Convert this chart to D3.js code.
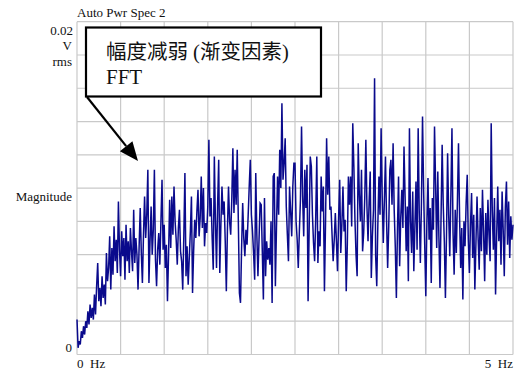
<!DOCTYPE html>
<html>
<head>
<meta charset="utf-8">
<script src="https://cdnjs.cloudflare.com/ajax/libs/d3/7.8.5/d3.min.js"></script>
<style>
  html, body { margin: 0; padding: 0; background: #fff; }
  svg { display: block; }
  text { font-family: "Liberation Serif", "Times New Roman", "Noto Sans CJK SC", serif; fill: #111; }
</style>
</head>
<body>
<script>
// Spectrum: 401 lines from 0 to 5 Hz, magnitude in mV rms
const freqStart = 0, freqEnd = 5;
const magnitudeMv = [
  2.1,0.4,0.8,0.6,1.4,1.0,1.7,1.2,2.0,1.6, 2.6,1.8,3.0,2.2,2.8,2.1,3.6,2.4,4.1,5.5,
  3.2,4.0,2.9,4.7,3.4,4.2,3.0,6.1,4.4,5.2, 7.1,3.9,6.4,4.8,7.7,5.6,6.9,4.9,9.2,6.3,
  4.7,7.4,5.9,7.0,4.5,7.8,5.6,6.8,4.9,7.6, 6.2,5.0,8.7,5.5,7.0,6.0,3.9,6.5,8.8,6.1,
  4.3,7.2,9.5,7.0,8.4,11.1,4.3,6.8,8.9,6.0, 7.5,11.1,5.7,4.1,6.3,7.3,5.4,8.0,10.5,6.3,
  7.8,5.2,6.6,3.2,6.0,9.3,6.4,9.5,7.2,10.1, 8.0,6.9,5.4,7.6,8.7,6.2,5.6,3.9,7.1,10.9,
  4.7,6.5,4.2,5.8,7.4,9.5,3.7,6.2,8.1,7.0, 8.6,9.9,7.1,8.2,10.7,7.6,10.0,6.5,7.9,7.3,
  8.9,12.9,8.3,9.4,7.0,5.1,11.9,8.0,5.2,9.0, 11.7,4.9,7.8,10.1,8.4,9.2,6.8,3.8,7.5,10.1,
  8.0,7.2,9.3,12.4,8.5,11.1,9.0,12.3,8.1,3.7, 3.1,6.4,9.1,7.0,5.9,7.5,6.6,8.3,10.1,11.7,
  8.4,7.4,6.1,4.5,10.9,7.2,4.7,6.9,9.1,9.0, 6.2,3.3,9.4,4.7,6.8,5.7,6.4,5.4,8.0,3.1,
  10.7,10.9,4.1,7.6,10.7,8.4,12.3,10.0,15.1,10.5, 11.5,13.0,8.9,7.2,5.6,10.1,8.6,7.1,10.1,11.5,
  11.5,8.0,6.9,5.2,7.4,9.3,13.7,9.5,7.1,11.1, 8.8,11.4,3.2,7.6,11.9,11.3,8.4,6.7,5.6,8.2,
  11.9,5.5,7.4,6.5,10.7,8.6,10.1,3.8,7.9,13.0, 9.6,11.9,8.7,8.9,7.2,5.6,6.9,8.5,6.8,5.0,
  8.2,10.5,6.1,7.8,10.1,7.4,8.1,3.8,6.6,10.7, 9.0,10.7,7.7,13.9,11.3,8.1,6.0,4.7,12.7,9.6,
  8.0,11.1,6.2,7.3,9.4,12.9,8.9,6.8,9.2,11.0, 4.6,7.1,8.7,16.6,5.9,4.1,7.8,10.7,8.4,13.6,
  9.5,6.7,9.3,11.9,8.1,5.2,7.7,11.1,11.7,9.0, 12.7,8.7,6.5,3.4,7.5,10.7,5.3,8.2,9.9,7.6,
  12.5,9.5,6.2,8.9,4.4,13.6,8.0,6.1,9.8,5.0, 7.7,10.4,6.3,13.6,8.5,5.5,9.1,14.3,9.9,6.6,
  3.5,7.9,10.6,6.9,8.8,4.3,9.4,7.5,13.7,10.2, 6.4,11.0,7.1,4.0,8.3,12.6,9.0,6.8,3.4,7.2,
  12.1,8.4,5.9,9.6,13.6,7.3,4.8,8.7,6.1,9.2, 12.7,8.2,5.2,7.6,3.3,8.0,6.5,9.1,10.8,6.9,
  4.9,7.8,9.7,5.8,8.4,3.9,6.7,9.5,7.0,5.1, 8.8,6.2,9.9,7.4,4.4,8.5,6.0,9.3,7.2,5.6,
  13.9,8.6,6.3,9.4,3.6,7.1,10.1,6.8,8.7,5.4, 9.8,7.5,4.7,8.9,10.4,6.6,9.2,5.8,8.3,6.9,
  7.8
];
const yMaxLabel = "0.02";
const yUnitLines = ["V", "rms"];
const xTickLabels = [{ f: 0, text: "0" }, { f: 5, text: "5" }];
const xUnit = "Hz";
const chartTitle = "Auto Pwr Spec 2";
const yTitle = "Magnitude";
const noteLines = ["幅度减弱 (渐变因素)", "FFT"];

const W = 518, H = 370;
const plot = { left: 77, right: 513, top: 21.7, bottom: 354.5 };

const step = (freqEnd - freqStart) / (magnitudeMv.length - 1);
const spectrum = magnitudeMv.map((v, i) => ({ f: freqStart + i * step, v: v / 1000 }));

const x = d3.scaleLinear().domain([freqStart, freqEnd]).range([plot.left, plot.right]);
const y = d3.scaleLinear().domain([0, 0.02]).range([plot.bottom, plot.top]);

const svg = d3.select("body").append("svg").attr("width", W).attr("height", H);

// grid: 10 divisions each way
const grid = svg.append("g").attr("stroke", "#c9c9c9").attr("stroke-width", 1.2);
grid.selectAll("line.v").data(d3.range(0, 11).map(k => freqStart + k * (freqEnd - freqStart) / 10))
  .join("line").attr("class", "v")
  .attr("x1", d => x(d)).attr("x2", d => x(d))
  .attr("y1", plot.top).attr("y2", plot.bottom);
grid.selectAll("line.h").data(d3.range(0, 11).map(k => k * 0.002))
  .join("line").attr("class", "h")
  .attr("y1", d => y(d)).attr("y2", d => y(d))
  .attr("x1", plot.left).attr("x2", plot.right);

// trace
const line = d3.line().x(d => x(d.f)).y(d => y(d.v));
svg.append("path").datum(spectrum)
  .attr("d", line)
  .attr("fill", "none")
  .attr("stroke", "#0a0a8c")
  .attr("stroke-width", 1.5)
  .attr("stroke-linejoin", "miter");

// titles and axis text
const fs = 13;
svg.append("text").attr("x", plot.left).attr("y", 17).attr("font-size", fs).text(chartTitle);
svg.append("text").attr("x", 73).attr("y", 35).attr("text-anchor", "end").attr("font-size", fs).text(yMaxLabel);
yUnitLines.forEach((t, i) => {
  svg.append("text").attr("x", 72).attr("y", 50 + i * 16).attr("text-anchor", "end").attr("font-size", fs).text(t);
});
svg.append("text").attr("x", 72).attr("y", y(0.01) + 13).attr("text-anchor", "end").attr("font-size", fs).text(yTitle);
svg.append("text").attr("x", 72).attr("y", y(0) - 2.5).attr("text-anchor", "end").attr("font-size", fs).text("0");

xTickLabels.forEach(t => {
  const g = svg.append("text").attr("y", 368).attr("font-size", fs);
  g.attr("x", x(t.f))
   .attr("text-anchor", t.f === freqStart ? "start" : "end")
   .text(t.text + "\u00a0\u00a0" + xUnit);
});

// annotation box with arrow
const note = svg.append("g");
note.append("rect").attr("x", 86).attr("y", 27.5).attr("width", 235).attr("height", 69)
  .attr("fill", "#fff").attr("stroke", "#000").attr("stroke-width", 2.2);
note.append("text").attr("x", 106).attr("y", 59).attr("font-size", 20.5).text(noteLines[0]);
note.append("text").attr("x", 106).attr("y", 84).attr("font-size", 21).text(noteLines[1]);

const tip = [138, 161], tail = [87, 97];
const ang = Math.atan2(tip[1] - tail[1], tip[0] - tail[0]);
const headLen = 19, headHalf = 8;
const base = [tip[0] - headLen * Math.cos(ang), tip[1] - headLen * Math.sin(ang)];
note.append("line").attr("x1", tail[0]).attr("y1", tail[1]).attr("x2", base[0]).attr("y2", base[1])
  .attr("stroke", "#000").attr("stroke-width", 2.2);
note.append("polygon").attr("fill", "#000").attr("points", [
  tip,
  [base[0] + headHalf * Math.sin(ang), base[1] - headHalf * Math.cos(ang)],
  [base[0] - headHalf * Math.sin(ang), base[1] + headHalf * Math.cos(ang)]
].map(p => p.join(",")).join(" "));
</script>
</body>
</html>
